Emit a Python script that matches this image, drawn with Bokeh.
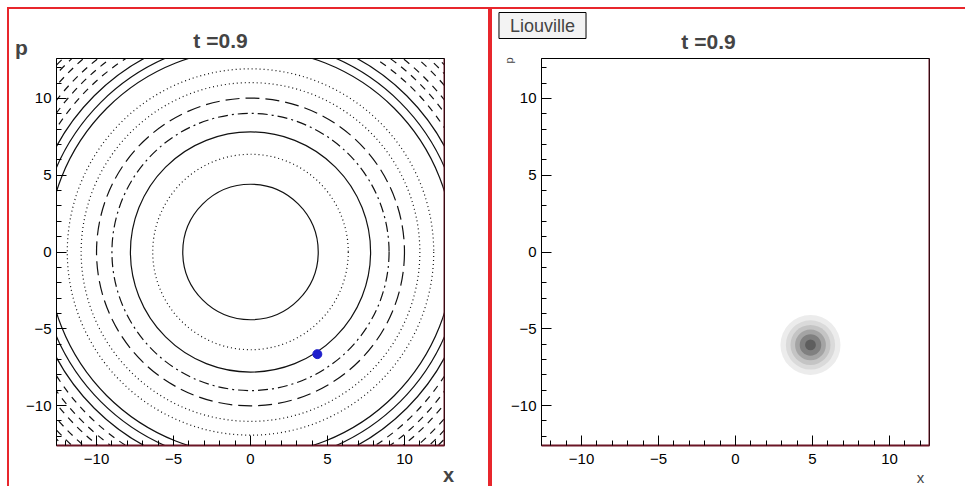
import math
from bokeh.plotting import figure
from bokeh.models import Label, FixedTicker, Span, Div, ColumnDataSource, Spacer
from bokeh.layouts import row, column
from bokeh.embed import file_html
from bokeh.resources import INLINE

# ---------------- data ----------------
title_text = "t =0.9"
panel_name = "Liouville"
x_label = "x"
y_label = "p"

tick_values = [-10, -5, 0, 5, 10]
tick_labels = ["\u221210", "\u22125", "0", "5", "10"]
minor_tick_values = [-12, -11, -9, -8, -7, -6, -4, -3, -2, -1,
                     1, 2, 3, 4, 6, 7, 8, 9, 11, 12]
axis_lo, axis_hi = -12.6, 12.6

# energy contours of the phase space (radius in the x-p plane) and their line style
contour_radius = [4.4, 6.35, 7.8, 9.0, 10.0, 11.0, 11.9,
                  13.2, 13.75, 14.35, 14.95, 15.5, 16.0, 16.6, 17.1, 17.5]
contour_style = ["solid", "dotted", "solid", "dashdot", "dashed", "dotted", "dotted",
                 "solid", "solid", "solid", "short", "short", "short", "short", "short", "short"]

# the particle
particle_x = [4.34]
particle_p = [-6.65]

# Liouville density blob (filled contour levels)
density_center_x = 4.87
density_center_p = -6.05
density_level_radius = [1.95, 1.6, 1.3, 1.0, 0.7, 0.35]
density_level_gray = ["#ececec", "#dadada", "#c4c4c4", "#a4a4a4", "#808080", "#5e5e5e"]

# ---------------- styling ----------------
RED = "#e8262c"
MAROON = "#6a1525"
FONT = "Liberation Sans"
DASH = {"solid": "solid", "dotted": "1 3", "dashdot": "10 4 2 4",
        "dashed": "14 6", "short": "7 6"}

FRAME_W, FRAME_H = 388, 387
ORIGIN_X, ORIGIN_Y = 7, 7          # page position of the red top/left bars
ROW_Y = ORIGIN_Y + 2               # page y where the figures start
FIG_H = 486 - ROW_Y
P1_X = ORIGIN_X + 2                # page x of left figure
P1_W = 488 - P1_X
P2_X = 492
P2_W = 965 - P2_X


def make_fig(width, border_left):
    border_right = width - border_left - FRAME_W
    p = figure(frame_width=FRAME_W, frame_height=FRAME_H,
               x_range=(axis_lo, axis_hi), y_range=(axis_lo, axis_hi),
               min_border_left=border_left, min_border_right=border_right,
               min_border_top=57 - ROW_Y, min_border_bottom=FIG_H - (57 - ROW_Y) - FRAME_H,
               output_backend="svg", toolbar_location=None, margin=0)
    p.grid.visible = False
    p.background_fill_color = "white"
    p.border_fill_color = "white"
    p.outline_line_color = "black"
    p.outline_line_width = 1
    for ax in (p.xaxis[0], p.yaxis[0]):
        ax.ticker = FixedTicker(ticks=tick_values, minor_ticks=minor_tick_values)
        ax.major_label_overrides = dict(zip(tick_values, tick_labels))
        ax.major_tick_in = 10
        ax.major_tick_out = 0
        ax.minor_tick_in = 5
        ax.minor_tick_out = 0
        ax.major_tick_line_color = "black"
        ax.minor_tick_line_color = "black"
        ax.major_label_text_font = FONT
        ax.major_label_text_font_size = "15px"
        ax.major_label_text_color = "black"
        ax.axis_line_color = "black"
    p.xaxis.major_label_standoff = 8
    p.yaxis.major_label_standoff = 5
    p.xaxis.axis_line_color = MAROON
    p.xaxis.axis_line_width = 2
    p.add_layout(Span(location=axis_hi, dimension="height", line_color=MAROON, line_width=2))
    return p


def canvas_label(p, side, fig_x, page_x, page_y, text, **kw):
    # labels live in a side panel so that they are not clipped to the frame
    p.add_layout(Label(x=page_x - fig_x, y=page_y - ROW_Y, x_units="canvas", y_units="canvas",
                       text=text, text_font=FONT, text_line_height=1.0,
                       text_align="center", text_baseline="middle", **kw), side)


# ---------------- left panel: contours ----------------
p1 = make_fig(P1_W, 56 - P1_X)

for style in ["solid", "dotted", "dashdot", "dashed", "short"]:
    radii = [r for r, s in zip(contour_radius, contour_style) if s == style]
    src = ColumnDataSource(dict(x=[0.0] * len(radii), y=[0.0] * len(radii), r=radii))
    p1.circle(x="x", y="y", radius="r", source=src, fill_color=None,
              line_color="#111111", line_width=1.2, line_dash=DASH[style])

p1.scatter(x=particle_x, y=particle_p, size=9, color="#1f1fcc")

canvas_label(p1, "above", P1_X, 220, 40, title_text,
             text_font_style="bold", text_font_size="21px")
canvas_label(p1, "left", P1_X, 21, 47, y_label,
             text_font_style="bold", text_font_size="21px")
canvas_label(p1, "right", P1_X, 448, 474, x_label,
             text_font_style="bold", text_font_size="20px")

# ---------------- right panel: density ----------------
p2 = make_fig(P2_W, 541 - P2_X)

src2 = ColumnDataSource(dict(x=[density_center_x] * len(density_level_radius),
                             y=[density_center_p] * len(density_level_radius),
                             r=density_level_radius, c=density_level_gray))
p2.circle(x="x", y="y", radius="r", source=src2, fill_color="c", line_color=None)

canvas_label(p2, "above", P2_X, 708, 41, title_text,
             text_font_style="bold", text_font_size="21px")
canvas_label(p2, "left", P2_X, 508, 60, y_label,
             angle=math.pi / 2, text_font_size="11px")
canvas_label(p2, "right", P2_X, 920, 477, x_label, text_font_size="15px")
canvas_label(p2, "above", P2_X, 542, 25, panel_name, text_font_size="18px",
             background_fill_color="#f3f3f3", border_line_color="black",
             border_line_width=1, padding=(11, 3))


def bar(w, h, color=RED):
    return Div(text="", width=w, height=h, margin=0,
               styles={"background-color": color, "overflow": "hidden"})


inner = column(bar(965 - ORIGIN_X, 2),
               row(bar(2, FIG_H), p1, bar(2, FIG_H), bar(2, FIG_H), p2, spacing=0),
               spacing=0, margin=0)
layout = column(Spacer(width=965, height=ORIGIN_Y, margin=0),
                row(Spacer(width=ORIGIN_X, height=FIG_H + 2, margin=0), inner, spacing=0, margin=0),
                spacing=0, margin=0)

open("out.html", "w").write(file_html(layout, INLINE))
